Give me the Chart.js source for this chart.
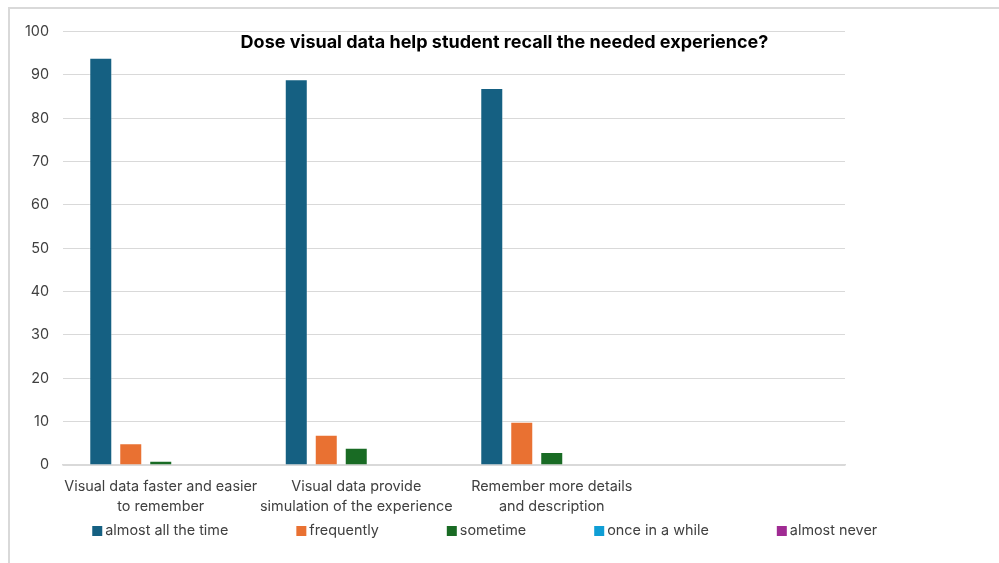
<!DOCTYPE html>
<html>
<head>
  <meta charset="utf-8">
  <title>Dose visual data help student recall the needed experience?</title>
  <script src="https://cdnjs.cloudflare.com/ajax/libs/Chart.js/4.4.0/chart.umd.min.js"></script>
  <style>
    body {
      margin: 0;
      background: #fff;
    }
    .frame {
      position: absolute;
      left: 8px;
      top: 7px;
      width: 989px;
      height: 554px;
      border-left: 2px solid #d9d9d9;
      border-top: 2px solid #d9d9d9;
    }
    canvas { display: block; }
  </style>
</head>
<body>
  <div class="frame"><canvas id="myChart"></canvas></div>

  <script>
    // data
    const categories = [
      ['Visual data faster and easier', 'to remember'],
      ['Visual data provide', 'simulation of the experience'],
      ['Remember more details', 'and description'],
      ''
    ];
    const seriesNames = ['almost all the time', 'frequently', 'sometime', 'once in a while', 'almost never'];
    const almostAllTheTime = [94, 89, 87, null];
    const frequently = [5, 7, 10, null];
    const sometime = [1, 4, 3, null];
    const onceInAWhile = [0, 0, 0, null];
    const almostNever = [0, 0, 0, null];
    const yTicks = [0, 10, 20, 30, 40, 50, 60, 70, 80, 90, 100];
    const titleText = 'Dose visual data help student recall the needed experience?';

    const colors = ['#156082', '#e97132', '#196b24', '#0f9ed5', '#a02b93'];
    const seriesValues = [almostAllTheTime, frequently, sometime, onceInAWhile, almostNever];
    const FONT = 'Inter, "Liberation Sans", sans-serif';
    const TEXT = '#404040';
    const SIZE = 14.4;

    // title drawn over the plot, like the Excel overlay title
    const overlayTitle = {
      id: 'overlayTitle',
      afterDraw(chart) {
        const ctx = chart.ctx;
        ctx.save();
        ctx.font = 'bold 18px ' + FONT;
        ctx.fillStyle = '#000';
        ctx.textAlign = 'center';
        ctx.textBaseline = 'middle';
        ctx.fillText(titleText, chart.width / 2, chart.chartArea.top + 11);
        ctx.restore();
      }
    };

    // legend row with fixed gap between items
    const bottomLegend = {
      id: 'bottomLegend',
      afterDraw(chart) {
        const ctx = chart.ctx;
        const box = 10, gapText = 3, gapItem = 68;
        ctx.save();
        ctx.font = SIZE + 'px ' + FONT;
        ctx.textBaseline = 'middle';
        const ds = chart.data.datasets;
        let total = 0;
        ds.forEach((d, i) => {
          total += box + gapText + ctx.measureText(d.label).width;
          if (i < ds.length - 1) total += gapItem;
        });
        let x = chart.width * 0.48 - total / 2;
        const y = chart.height - 32;
        ds.forEach(d => {
          ctx.fillStyle = d.backgroundColor;
          ctx.fillRect(x, y - box / 2, box, box);
          ctx.fillStyle = TEXT;
          ctx.fillText(d.label, x + box + gapText, y);
          x += box + gapText + ctx.measureText(d.label).width + gapItem;
        });
        ctx.restore();
      }
    };

    const ctx = document.getElementById('myChart').getContext('2d');
    const myChart = new Chart(ctx, {
      type: 'bar',
      data: {
        labels: categories,
        datasets: seriesNames.map((name, i) => ({
          label: name,
          data: seriesValues[i],
          backgroundColor: colors[i],
          borderColor: 'rgba(255,255,255,0.4)',
          borderWidth: 1,
          categoryPercentage: 0.767,
          barPercentage: 0.767
        }))
      },
      options: {
        responsive: true,
        maintainAspectRatio: false,
        animation: false,
        layout: {
          padding: { top: 22, right: 154, bottom: 0, left: 0 }
        },
        plugins: {
          legend: { display: false },
          title: { display: false },
          tooltip: { enabled: false }
        },
        scales: {
          x: {
            grid: { display: false },
            border: { display: true, color: '#d9d9d9', width: 1.5 },
            ticks: {
              color: TEXT,
              font: { family: FONT, size: SIZE, lineHeight: 1.39 },
              padding: 4,
              maxRotation: 0,
              autoSkip: false
            },
            afterFit(scale) { scale.height = 98; }
          },
          y: {
            min: 0,
            max: 100,
            afterBuildTicks(scale) { scale.ticks = yTicks.map(v => ({ value: v })); },
            grid: { color: '#d9d9d9', lineWidth: 1, drawTicks: false },
            border: { display: false },
            ticks: {
              color: TEXT,
              font: { family: FONT, size: SIZE },
              padding: 14
            },
            afterFit(scale) { scale.width = 53; }
          }
        }
      },
      plugins: [overlayTitle, bottomLegend]
    });
  </script>
</body>
</html>
